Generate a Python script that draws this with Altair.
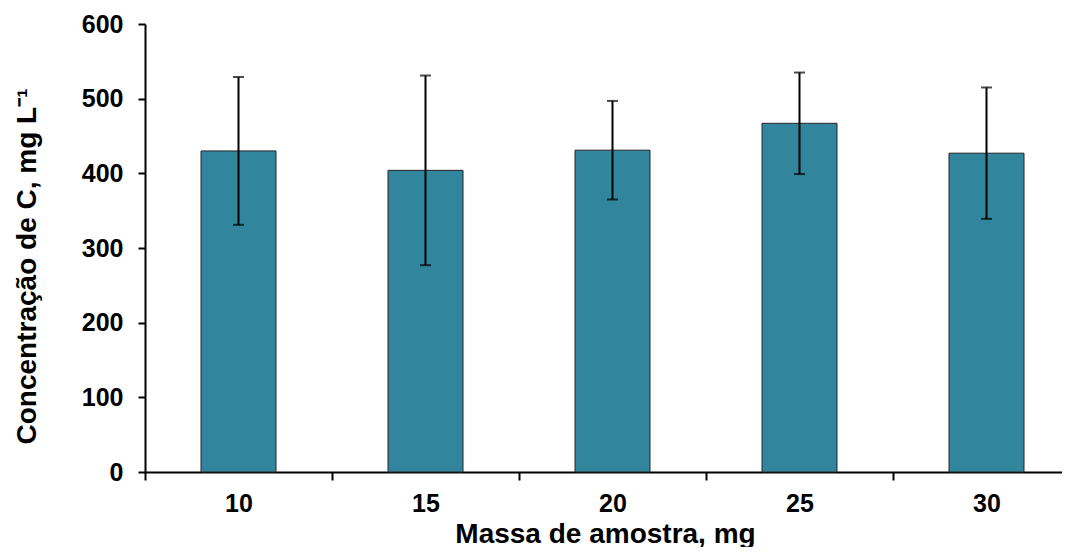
import altair as alt
import pandas as pd

masses = [10, 15, 20, 25, 30]
means = [430, 404, 431, 467, 427]
sds = [99, 127, 66, 68, 88]

df = pd.DataFrame({"massa": masses, "media": means, "sd": sds})
df["low"] = df["media"] - df["sd"]
df["high"] = df["media"] + df["sd"]

FONT = "Liberation Sans"
PLOT_W = 917
BAND = 187.0  # pixel width of one category slot
x_max = 7.5 + 5 * PLOT_W / BAND

xenc = alt.X(
    "massa:Q",
    scale=alt.Scale(domain=[7.5, x_max], nice=False, zero=False, padding=0),
    axis=alt.Axis(
        title="Massa de amostra, mg",
        values=masses,
        format="d",
        labelAngle=0,
        tickOffset=-BAND / 2,
        labelOffset=BAND / 2,
        tickSize=8,
        labelPadding=11,
        titleY=70,
        titleX=460,
        titleBaseline="alphabetic",
        titleAlign="center",
        titleFontSize=28,
        grid=False,
    ),
)

yaxis = alt.Axis(
    title="Concentração de C, mg L⁻¹",
    values=[0, 100, 200, 300, 400, 500, 600],
    tickSize=7,
    labelPadding=15,
    grid=False,
    titleX=-118,
    titleY=242,
    titleAlign="center",
    titleBaseline="middle",
)
yscale = alt.Scale(domain=[0, 600], padding=0)

base = alt.Chart(df)

bars = base.mark_bar(size=75, color="#31859C", stroke="#262626", strokeWidth=1).encode(
    x=xenc,
    y=alt.Y("media:Q", scale=yscale, axis=yaxis),
)

rules = base.mark_rule(color="black", strokeWidth=2).encode(
    x=xenc,
    y=alt.Y("low:Q", scale=yscale, axis=yaxis),
    y2="high:Q",
)

cap_hi = base.mark_tick(color="black", thickness=2, size=11, orient="horizontal").encode(
    x=xenc,
    y=alt.Y("high:Q", scale=yscale, axis=yaxis),
)
cap_lo = base.mark_tick(color="black", thickness=2, size=11, orient="horizontal").encode(
    x=xenc,
    y=alt.Y("low:Q", scale=yscale, axis=yaxis),
)

chart = (
    alt.layer(bars, rules, cap_hi, cap_lo)
    .properties(
        width=PLOT_W,
        height=448,
        autosize=alt.AutoSizeParams(type="none"),
        padding={"left": 137, "top": 16, "right": 0, "bottom": 75},
    )
    .configure_view(stroke=None)
    .configure_axis(
        domainColor="black",
        domainWidth=2,
        tickColor="black",
        tickWidth=2,
        labelFont=FONT,
        labelFontSize=25,
        labelFontWeight="bold",
        labelColor="black",
        titleFont=FONT,
        titleFontSize=28,
        titleFontWeight="bold",
        titleColor="black",
    )
)

chart.save("out.html", embed_options={"renderer": "svg", "actions": False})
